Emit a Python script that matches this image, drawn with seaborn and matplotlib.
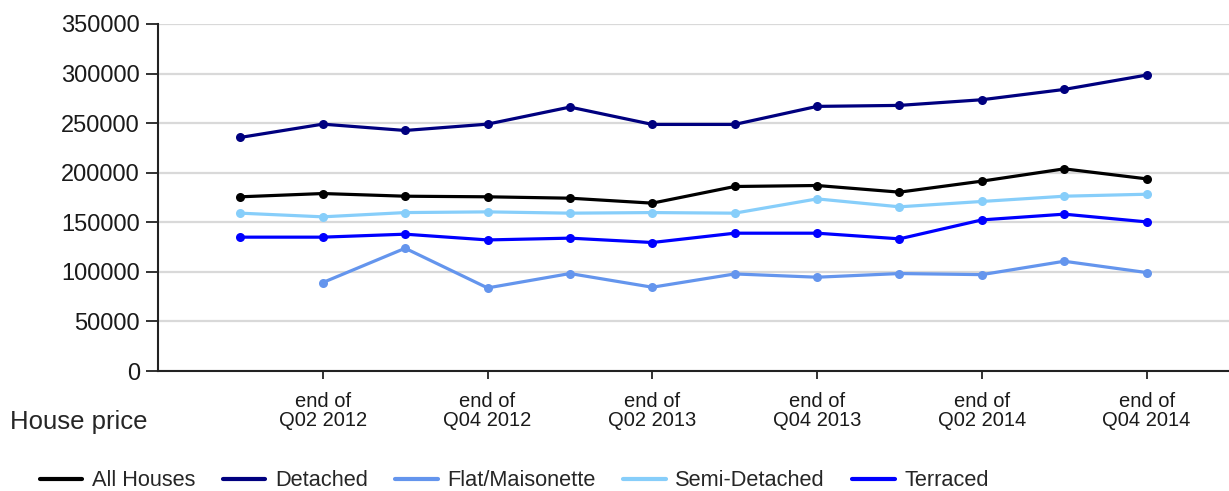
import pandas as pd
import numpy as np
import matplotlib
matplotlib.use("Agg")
import matplotlib.pyplot as plt
from matplotlib.lines import Line2D
import seaborn as sns

# quarters Q01 2012 .. Q04 2014
trimestres = ['Q01 2012', 'Q02 2012', 'Q03 2012', 'Q04 2012',
              'Q01 2013', 'Q02 2013', 'Q03 2013', 'Q04 2013',
              'Q01 2014', 'Q02 2014', 'Q03 2014', 'Q04 2014']

all_houses = [175700, 179000, 176300, 175700, 174300, 169300, 186100, 187100, 180400, 191500, 203900, 193800]
detached = [235600, 249000, 242600, 249000, 266200, 248700, 248700, 266900, 267900, 273600, 284000, 298500]
flat = [np.nan, 89200, 123800, 83800, 98300, 84500, 97900, 94600, 98300, 97200, 110700, 99300]
semi = [159200, 155500, 159800, 160500, 159200, 159800, 159200, 173600, 165600, 171000, 176300, 178300]
terraced = [135000, 135000, 138000, 132200, 134000, 129600, 139000, 139000, 133300, 152400, 158200, 150400]

series = ['All Houses', 'Detached', 'Flat/Maisonette', 'Semi-Detached', 'Terraced']
colores = ['#000000', '#00007f', '#6495ed', '#87cefa', '#0000ff']

tick_idx = [1, 3, 5, 7, 9, 11]
tick_labels = ['end of\n' + trimestres[i] for i in tick_idx]

df = pd.DataFrame({
    'idx': list(range(len(trimestres))) * 5,
    'valor': all_houses + detached + flat + semi + terraced,
    'serie': [s for s in series for _ in trimestres],
})
df = df.dropna()

sns.set_style('white')
plt.rcParams['font.family'] = ['Liberation Sans', 'DejaVu Sans']

fig = plt.figure(figsize=(12.29, 4.91), dpi=100)
ax = fig.add_axes([158 / 1229, 1 - 371 / 491, 1 - 158 / 1229, 347 / 491])

sns.lineplot(data=df, x='idx', y='valor', hue='serie', hue_order=series,
             palette=colores, marker='o', markersize=6.5, linewidth=2.3,
             markeredgewidth=0, legend=False, ax=ax, estimator=None, sort=True)

ax.set_xlim(-1, 12)
ax.set_ylim(0, 350000)
ax.set_yticks(range(0, 350001, 50000))
ax.set_yticklabels([str(v) for v in range(0, 350001, 50000)], fontsize=17, color='#1a1a1a')
ax.set_xticks(tick_idx)
ax.set_xticklabels(tick_labels, fontsize=14.5, color='#1a1a1a', linespacing=1.0)
ax.set_xlabel('')
ax.set_ylabel('')

ax.grid(axis='y', color='#d9d9d9', linewidth=1.6)
ax.set_axisbelow(True)
for lado in ['top', 'right']:
    ax.spines[lado].set_visible(False)
for lado in ['left', 'bottom']:
    ax.spines[lado].set_color('#222222')
    ax.spines[lado].set_linewidth(1.5)
ax.tick_params(axis='y', length=9, width=1.3, pad=4, color='#222222', left=True)
ax.tick_params(axis='x', length=6, width=1.3, pad=9, color='#222222', bottom=True)

fig.text(10 / 1229, 1 - 422 / 491, 'House price', fontsize=18.5, va='center', ha='left')

handles = [Line2D([0], [0], color=c, linewidth=3) for c in colores]
fig.legend(handles, series, loc='center left', bbox_to_anchor=(20 / 1229, 1 - 481 / 491),
           ncol=5, frameon=False, fontsize=15.7, handlelength=1.95, columnspacing=1.25,
           handletextpad=0.45)

fig.savefig('out.png', dpi=100)
